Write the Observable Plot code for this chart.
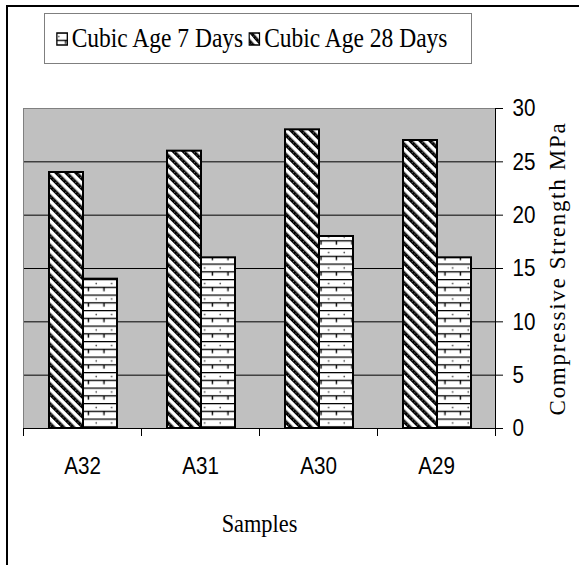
<!DOCTYPE html>
<html><head><meta charset="utf-8">
<script src="https://cdn.jsdelivr.net/npm/d3@7"></script>
<script src="https://cdn.jsdelivr.net/npm/@observablehq/plot@0.6"></script>
<style>
html,body{margin:0;padding:0;background:#fff;}
body{width:579px;height:565px;overflow:hidden;position:relative;}
#frame{position:absolute;left:6px;top:5px;width:700px;height:700px;border:2px solid #000;box-sizing:border-box;}
#chart{position:absolute;left:0;top:0;}
#legend{position:absolute;left:44px;top:13px;width:428px;height:51px;box-sizing:border-box;border:1px solid #7f7f7f;background:#fff;padding-left:11px;font-family:"Liberation Serif","Times New Roman",serif;font-size:27px;white-space:nowrap;color:#000;display:flex;align-items:center;}
#legend .inner{display:flex;align-items:center;transform:scaleX(0.87);transform-origin:left center;}
.item{display:flex;align-items:center;margin-right:6px;}
.sw{display:block;margin-right:4px;}
</style></head><body>
<svg width="0" height="0" style="position:absolute">
 <defs>
  <pattern id="diag" patternUnits="userSpaceOnUse" width="7" height="7" patternTransform="rotate(-45)">
   <rect x="0" y="0" width="7" height="7" fill="#fff"/>
   <rect x="0" y="0" width="3.4" height="7" fill="#000"/>
   <line x1="1.7" y1="0" x2="1.7" y2="7" stroke="#aaa" stroke-width="0.9" stroke-dasharray="0.9 2.6"/>
  </pattern>
  <pattern id="brick" patternUnits="userSpaceOnUse" width="15.5" height="15.5">
   <rect x="0" y="0" width="15.5" height="15.5" fill="#fff"/>
   <line x1="0" y1="0.6" x2="15.5" y2="0.6" stroke="#000" stroke-width="1.3"/>
   <line x1="0" y1="8.35" x2="15.5" y2="8.35" stroke="#000" stroke-width="1.3"/>
   <circle cx="3.2" cy="4.5" r="0.8" fill="#333"/>
   <line x1="11" y1="8.35" x2="11" y2="12.2" stroke="#000" stroke-width="1.4"/>
  </pattern>
 </defs>
</svg>
<div id="frame"></div>
<div id="chart"></div>
<div id="legend"><div class="inner"></div></div>
<script>
// data
const samples = ["A32", "A31", "A30", "A29"];
const age28 = [24, 26, 28, 27];   // diagonal-hatched bars (first in each group)
const age7 = [14, 16, 18, 16];    // brick-patterned bars (second in each group)
const seriesNames = ["Cubic Age 7 Days", "Cubic Age 28 Days"];
const seriesFills = ["url(#brick)", "url(#diag)"];
const yTicks = [0, 5, 10, 15, 20, 25, 30];
const yTitle = "Compressive Strength MPa";
const xTitle = "Samples";

const rows28 = samples.map((s, i) => ({sample: s, series: seriesNames[1], value: age28[i]}));
const rows7 = samples.map((s, i) => ({sample: s, series: seriesNames[0], value: age7[i]}));

const sans = '"Liberation Sans", Arial, sans-serif';
const serif = '"Liberation Serif", "Times New Roman", serif';

const chart = Plot.plot({
  width: 579,
  height: 565,
  marginLeft: 23,
  marginRight: 84,
  marginTop: 108,
  marginBottom: 137,
  style: {fontFamily: sans, fontSize: "24px", background: "transparent", color: "#000", overflow: "visible"},
  x: {domain: samples, padding: 0, axis: null},
  y: {domain: [0, 30], axis: null},
  marks: [
    Plot.frame({fill: "#c0c0c0", stroke: null}),
    Plot.gridY(yTicks.filter(v => v > 0 && v < 30), {stroke: "#000", strokeOpacity: 1}),
    Plot.frame({anchor: "top", stroke: "#808080"}),
    Plot.frame({anchor: "left", stroke: "#808080"}),
    Plot.barY(rows28, {x: "sample", y: "value", fill: seriesFills[1], stroke: "#000", strokeWidth: 2, insetLeft: 26, insetRight: 58}),
    Plot.barY(rows7, {x: "sample", y: "value", fill: seriesFills[0], stroke: "#000", strokeWidth: 2, insetLeft: 60, insetRight: 24}),
    Plot.ruleY([0], {stroke: "#000"}),
    Plot.frame({anchor: "right", stroke: "#000"}),
    Plot.axisY(yTicks, {anchor: "right", tickSize: 7, tickPadding: 10, label: null, stroke: "#000"}),
    Plot.axisX(samples, {anchor: "bottom", tickSize: 8, tickFormat: () => "", dx: -59, label: null}),
    Plot.axisX([samples[samples.length - 1]], {anchor: "bottom", tickSize: 8, tickFormat: () => "", dx: 59, label: null}),
    Plot.axisX(samples, {anchor: "bottom", tickSize: 0, tickPadding: 28, label: null}),
    Plot.text([yTitle], {frameAnchor: "right", dx: 62, rotate: -90, textAnchor: "middle", lineAnchor: "middle", fontFamily: serif, fontSize: 23, fill: "#000"}),
    Plot.text([xTitle], {frameAnchor: "bottom", dy: 95, textAnchor: "middle", lineAnchor: "middle", fontFamily: serif, fontSize: 26, fill: "#000"})
  ]
});
document.getElementById("chart").appendChild(chart);

// horizontally condense the text glyphs, as in the reference; space out the rotated title
chart.querySelectorAll("text").forEach(t => {
  if (t.textContent === yTitle) {
    t.style.letterSpacing = "1.7px";
    return;
  }
  const x = parseFloat(t.getAttribute("x")) || 0;
  const y = parseFloat(t.getAttribute("y")) || 0;
  const tr = t.getAttribute("transform") || "";
  t.setAttribute("transform", `${tr} translate(${x},${y}) scale(0.86,1) translate(${-x},${-y})`);
});

// legend
const inner = document.querySelector("#legend .inner");
seriesNames.forEach((name, i) => {
  const item = document.createElement("div");
  item.className = "item";
  item.innerHTML = `<svg class="sw" width="14" height="14"><rect x="1" y="1" width="12" height="12" fill="${seriesFills[i]}" stroke="#000" stroke-width="1.5"/></svg><span>${name}</span>`;
  inner.appendChild(item);
});
</script>
</body></html>
